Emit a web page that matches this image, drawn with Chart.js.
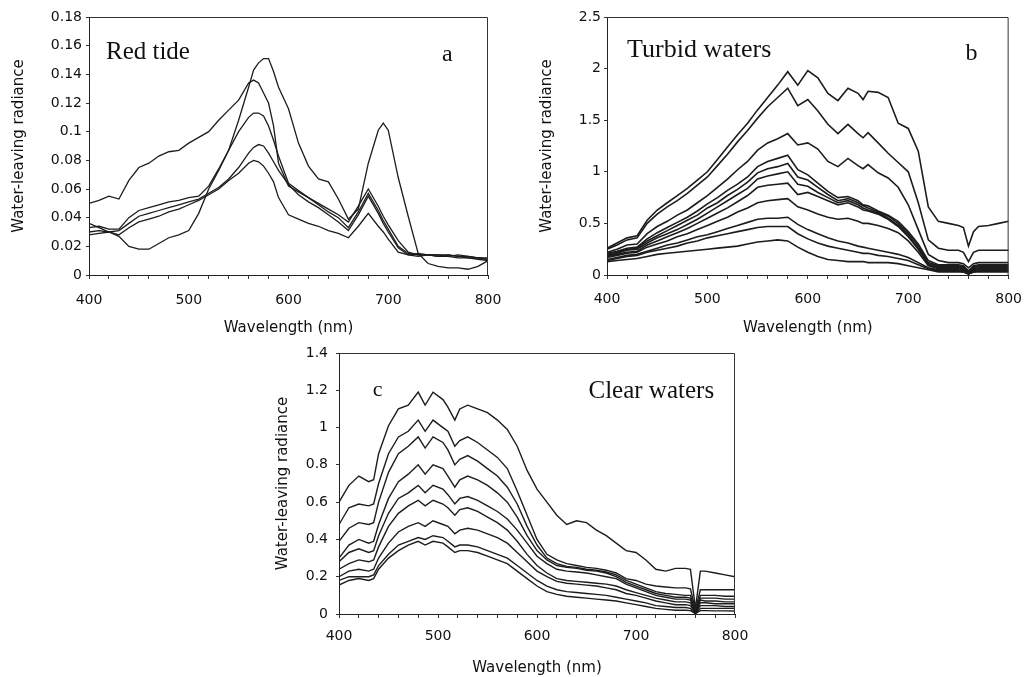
<!DOCTYPE html>
<html lang="en">
<head>
<meta charset="utf-8">
<title>Water-leaving radiance spectra</title>
<script src="https://cdn.jsdelivr.net/npm/chart.js@4.4.1/dist/chart.umd.min.js"></script>
<style>
  body { margin: 0; background: #fff; }
  #wrap { position: relative; width: 1034px; height: 677px; overflow: hidden; }
  #wrap canvas { position: absolute; }
</style>
</head>
<body>
<div id="wrap">
  <canvas id="chartA" width="520" height="345" style="left:0;top:0"></canvas>
  <canvas id="chartB" width="514" height="345" style="left:520px;top:0"></canvas>
  <canvas id="chartC" width="540" height="344" style="left:260px;top:333px"></canvas>
</div>
<script>
// ---- panel a : red tide ----
var wlA = [400,410,420,430,440,450,460,470,480,490,500,510,520,530,540,550,560,565,570,575,580,585,590,
           600,610,620,630,640,650,660,670,680,690,695,700,710,720,730,740,750,760,770,780,790,800];
var redA1 = [.050,.052,.055,.053,.066,.075,.078,.083,.086,.087,.092,.096,.100,.108,.115,.122,.134,.136,.134,.127,.120,.104,.078,
             .062,.058,.054,.050,.046,.042,.037,.048,.060,.048,.041,.035,.024,.016,.014,.014,.014,.014,.013,.013,.012,.011];
var redA2 = [.030,.031,.030,.027,.020,.018,.018,.022,.026,.028,.031,.043,.060,.073,.087,.108,.131,.143,.148,.151,.151,.142,.131,
             .116,.092,.076,.067,.065,.053,.039,.046,.078,.101,.106,.101,.068,.041,.015,.008,.006,.005,.005,.004,.006,.010];
var redA3 = [.033,.034,.032,.032,.040,.045,.047,.049,.051,.052,.054,.055,.062,.074,.087,.100,.110,.113,.113,.111,.104,.094,.083,
             .064,.059,.054,.049,.044,.040,.033,.044,.057,.045,.038,.032,.020,.015,.014,.014,.013,.014,.013,.012,.012,.011];
var redA4 = [.036,.033,.030,.031,.036,.041,.043,.045,.047,.049,.051,.053,.057,.061,.067,.075,.085,.089,.091,.090,.085,.079,.073,
             .063,.056,.051,.047,.042,.037,.031,.042,.055,.043,.036,.030,.019,.014,.015,.014,.014,.013,.014,.013,.012,.012];
var redA5 = [.028,.029,.030,.028,.033,.037,.039,.041,.044,.046,.049,.052,.056,.060,.066,.071,.078,.080,.079,.076,.071,.065,.054,
             .042,.039,.036,.034,.031,.029,.026,.034,.043,.034,.030,.025,.016,.014,.013,.014,.013,.013,.012,.012,.011,.010];

// ---- panel b : turbid waters ----
var wlB = [400,410,420,430,440,450,460,470,480,490,500,510,520,530,540,550,560,570,580,
           590,600,610,620,630,640,650,655,660,670,680,690,700,710,720,730,740,750,755,760,765,770,780,790,800];
var turbB1 = [.26,.31,.36,.38,.53,.63,.70,.77,.84,.92,1.00,1.12,1.24,1.36,1.47,1.60,1.72,1.84,1.97,
              1.84,1.98,1.91,1.76,1.69,1.81,1.76,1.70,1.78,1.77,1.72,1.47,1.42,1.20,.66,.52,.50,.48,.46,.28,.42,.47,.48,.50,.52];
var turbB2 = [.25,.29,.34,.36,.50,.59,.66,.72,.79,.87,.95,1.06,1.17,1.29,1.40,1.52,1.63,1.72,1.81,
              1.64,1.70,1.59,1.46,1.37,1.46,1.37,1.33,1.38,1.28,1.18,1.09,1.00,.70,.34,.26,.24,.24,.22,.13,.22,.24,.24,.24,.24];
var turbB3 = [.22,.25,.29,.30,.40,.47,.52,.58,.63,.70,.77,.85,.93,1.02,1.10,1.21,1.28,1.32,1.37,
              1.26,1.28,1.22,1.10,1.05,1.13,1.06,1.03,1.07,.99,.94,.85,.68,.44,.20,.14,.12,.12,.11,.07,.11,.12,.12,.12,.12];
var turbB4 = [.21,.23,.26,.27,.35,.41,.46,.51,.56,.62,.69,.75,.82,.88,.95,1.05,1.10,1.13,1.16,
              1.02,.97,.89,.81,.75,.76,.72,.68,.67,.62,.58,.52,.42,.30,.14,.10,.10,.10,.09,.04,.09,.10,.10,.10,.10];
var turbB5 = [.20,.22,.25,.26,.33,.38,.43,.48,.53,.58,.65,.70,.77,.83,.90,.99,1.03,1.05,1.08,
              .95,.92,.85,.78,.72,.74,.70,.67,.65,.61,.57,.50,.40,.28,.12,.09,.09,.09,.08,.03,.08,.09,.09,.09,.09];
var turbB6 = [.19,.21,.24,.25,.31,.36,.40,.44,.49,.54,.60,.66,.72,.78,.84,.93,.96,.98,1.00,
              .88,.86,.80,.75,.70,.72,.68,.65,.63,.60,.55,.48,.38,.26,.11,.08,.08,.08,.07,.03,.07,.08,.08,.08,.08];
var turbB7 = [.18,.20,.22,.23,.29,.33,.37,.41,.45,.50,.55,.60,.65,.71,.77,.85,.87,.88,.89,
              .78,.80,.76,.72,.68,.70,.66,.63,.62,.59,.54,.47,.37,.25,.10,.07,.07,.07,.06,.02,.06,.07,.07,.07,.07];
var turbB8 = [.17,.19,.21,.22,.27,.30,.33,.37,.40,.44,.48,.52,.56,.61,.65,.70,.72,.73,.74,
              .66,.63,.59,.56,.54,.55,.52,.50,.50,.48,.45,.41,.33,.22,.09,.06,.06,.06,.05,.02,.05,.06,.06,.06,.06];
var turbB9 = [.15,.17,.19,.20,.23,.26,.29,.31,.34,.37,.39,.42,.45,.48,.51,.54,.55,.55,.56,
              .49,.44,.40,.36,.33,.31,.28,.27,.26,.24,.22,.20,.17,.12,.07,.05,.05,.05,.04,.01,.04,.05,.05,.05,.05];
var turbB10 = [.14,.16,.18,.19,.22,.24,.26,.28,.31,.33,.36,.38,.40,.42,.44,.46,.47,.47,.47,
               .40,.35,.31,.28,.26,.24,.22,.21,.21,.19,.18,.16,.14,.10,.06,.04,.04,.04,.03,.01,.03,.04,.04,.04,.04];
var turbB11 = [.13,.14,.15,.16,.18,.20,.21,.22,.23,.24,.25,.26,.27,.28,.30,.32,.33,.34,.33,
               .27,.22,.18,.15,.14,.13,.13,.13,.12,.12,.12,.11,.09,.07,.05,.03,.03,.03,.03,.01,.03,.03,.03,.03,.03];

// ---- panel c : clear waters ----
var wlC = [400,410,420,430,435,440,450,460,470,480,487,495,505,510,517,522,
           530,540,550,560,570,580,590,600,610,620,630,640,650,660,670,680,690,700,710,720,730,740,750,
           755,760,765,770,780,790,800];
var clearC1 = [.60,.69,.74,.71,.72,.86,1.01,1.10,1.12,1.19,1.12,1.19,1.15,1.11,1.04,1.10,
               1.12,1.10,1.08,1.04,.99,.90,.77,.67,.60,.53,.48,.50,.49,.45,.42,.38,.34,.33,.29,.24,.23,.245,.245,
               .24,.03,.23,.23,.22,.21,.20];
var clearC2 = [.48,.57,.59,.58,.59,.70,.86,.95,.98,1.04,.98,1.04,1.00,.98,.90,.93,
               .95,.92,.88,.84,.78,.66,.53,.40,.32,.29,.27,.26,.25,.245,.235,.22,.19,.18,.16,.15,.145,.14,.14,
               .135,.02,.13,.13,.13,.13,.13];
var clearC3 = [.39,.46,.49,.48,.49,.60,.76,.86,.90,.95,.89,.95,.92,.88,.80,.83,
               .85,.82,.78,.74,.68,.59,.47,.37,.30,.27,.255,.25,.24,.235,.225,.21,.18,.16,.14,.12,.11,.105,.10,
               .10,.015,.10,.10,.10,.095,.095];
var clearC4 = [.30,.37,.40,.38,.39,.48,.62,.71,.75,.80,.75,.80,.78,.74,.68,.72,
               .74,.72,.69,.65,.60,.52,.42,.34,.29,.26,.25,.245,.235,.23,.22,.20,.17,.15,.13,.11,.10,.09,.09,
               .085,.01,.085,.085,.085,.08,.08];
var clearC5 = [.28,.33,.35,.33,.34,.42,.54,.62,.65,.69,.65,.69,.67,.64,.59,.62,
               .63,.61,.58,.55,.51,.45,.38,.31,.27,.24,.23,.225,.22,.21,.20,.19,.16,.14,.12,.10,.09,.08,.08,
               .075,.008,.075,.07,.07,.065,.065];
var clearC6 = [.24,.27,.29,.28,.29,.36,.47,.54,.58,.61,.58,.61,.59,.57,.53,.56,
               .57,.55,.52,.49,.45,.39,.32,.26,.22,.19,.18,.175,.17,.165,.16,.15,.13,.115,.10,.085,.075,.065,.065,
               .06,.006,.06,.06,.055,.055,.055];
var clearC7 = [.20,.23,.24,.23,.24,.30,.38,.44,.47,.49,.47,.50,.48,.47,.43,.45,
               .46,.45,.43,.41,.38,.33,.28,.23,.20,.175,.165,.16,.155,.15,.14,.13,.11,.10,.085,.07,.06,.05,.05,
               .045,.004,.045,.045,.045,.04,.04];
var clearC8 = [.18,.20,.20,.20,.21,.26,.32,.37,.39,.41,.40,.42,.41,.39,.36,.37,
               .37,.36,.34,.32,.30,.26,.22,.18,.15,.13,.12,.115,.11,.105,.10,.09,.08,.07,.06,.045,.04,.035,.035,
               .03,.003,.03,.03,.03,.03,.03];
var clearC9 = [.155,.18,.19,.18,.19,.24,.30,.34,.37,.39,.37,.39,.38,.36,.33,.34,
               .34,.33,.31,.29,.27,.23,.19,.15,.12,.105,.095,.09,.085,.08,.075,.07,.06,.05,.04,.03,.025,.02,.02,
               .018,.002,.018,.018,.017,.017,.016];

var tickFont = { family: 'DejaVu Sans', size: 14 };
var titleFont = { family: 'DejaVu Sans', size: 15 };
var ink = '#1c1c1c';

// top + right edge of the plot box
var framePlugin = {
  id: 'frame',
  afterDraw: function (chart) {
    var a = chart.chartArea, ctx = chart.ctx;
    ctx.save();
    ctx.strokeStyle = '#333';
    ctx.lineWidth = 1;
    ctx.beginPath();
    ctx.moveTo(a.left, a.top + 0.5);
    ctx.lineTo(a.right - 0.5, a.top + 0.5);
    ctx.lineTo(a.right - 0.5, a.bottom);
    ctx.stroke();
    ctx.restore();
  }
};

// panel captions, placed in data coordinates
var textPlugin = {
  id: 'panelText',
  afterDraw: function (chart, args, opts) {
    var ctx = chart.ctx, xs = chart.scales.x, ys = chart.scales.y;
    ctx.save();
    ctx.fillStyle = '#111';
    ctx.textBaseline = 'alphabetic';
    (opts.items || []).forEach(function (it) {
      ctx.font = it.size + 'px "Liberation Serif", "Times New Roman", serif';
      ctx.textAlign = 'left';
      ctx.fillText(it.text, xs.getPixelForValue(it.x), ys.getPixelForValue(it.y));
    });
    ctx.restore();
  }
};

function fmt(v) { return String(+v.toFixed(2)); }

function makePanel(id, p) {
  var canvas = document.getElementById(id);
  var datasets = p.series.map(function (s) {
    return {
      data: p.wl.map(function (w, i) { return { x: w, y: s[i] }; }),
      borderColor: ink,
      borderWidth: p.lineWidth,
      pointRadius: 0,
      tension: 0,
      fill: false
    };
  });
  return new Chart(canvas, {
    type: 'line',
    data: { datasets: datasets },
    options: {
      responsive: false,
      animation: false,
      events: [],
      layout: { padding: { top: p.box.top, right: canvas.width - p.box.right, left: 0, bottom: 0 } },
      plugins: {
        legend: { display: false },
        tooltip: { enabled: false },
        panelText: { items: p.notes }
      },
      scales: {
        x: {
          type: 'linear', min: 400, max: 800,
          afterFit: function (s) { s.height = canvas.height - p.box.bottom; },
          grid: { display: true, drawOnChartArea: false, drawTicks: true, tickLength: 4, color: '#333' },
          border: { display: true, color: '#222', width: 1 },
          ticks: {
            stepSize: 20, autoSkip: false, maxRotation: 0, padding: p.xTickPad,
            color: '#111', font: tickFont,
            callback: function (v) { return v % 100 === 0 ? String(v) : ''; }
          },
          title: { display: true, text: 'Wavelength (nm)', color: '#111', font: titleFont,
                   padding: { top: 0, bottom: p.xTitlePad } }
        },
        y: {
          type: 'linear', min: 0, max: p.yMax,
          afterFit: function (s) { s.width = p.box.left; },
          grid: { display: true, drawOnChartArea: false, drawTicks: true, tickLength: 3, color: '#333' },
          border: { display: true, color: '#222', width: 1 },
          ticks: { stepSize: p.yStep, padding: p.yTickPad, color: '#111', font: tickFont, callback: fmt },
          title: { display: true, text: 'Water-leaving radiance', color: '#111', font: titleFont,
                   padding: { top: p.yTitlePad, bottom: 0 } }
        }
      }
    },
    plugins: [framePlugin, textPlugin]
  });
}

makePanel('chartA', {
  wl: wlA, series: [redA1, redA2, redA3, redA4, redA5],
  box: { left: 89, top: 17, right: 488, bottom: 275 },
  yMax: 0.18, yStep: 0.02, lineWidth: 1.3,
  xTickPad: 13, xTitlePad: 8, yTickPad: 4, yTitlePad: 10,
  notes: [ { text: 'Red tide', x: 417, y: 0.151, size: 25 },
           { text: 'a', x: 754, y: 0.149, size: 24 } ]
});

makePanel('chartB', {
  wl: wlB, series: [turbB1, turbB2, turbB3, turbB4, turbB5, turbB6, turbB7, turbB8, turbB9, turbB10, turbB11],
  box: { left: 87, top: 17, right: 496, bottom: 275 },
  yMax: 2.5, yStep: 0.5, lineWidth: 1.6,
  xTickPad: 12, xTitlePad: 8, yTickPad: 3, yTitlePad: 18,
  notes: [ { text: 'Turbid waters', x: 420, y: 2.11, size: 26 },
           { text: 'b', x: 757, y: 2.08, size: 24 } ]
});

makePanel('chartC', {
  wl: wlC, series: [clearC1, clearC2, clearC3, clearC4, clearC5, clearC6, clearC7, clearC8, clearC9],
  box: { left: 79, top: 20, right: 475, bottom: 281 },
  yMax: 1.4, yStep: 0.2, lineWidth: 1.4,
  xTickPad: 10, xTitlePad: 0, yTickPad: 8, yTitlePad: 14,
  notes: [ { text: 'Clear waters', x: 652, y: 1.16, size: 25 },
           { text: 'c', x: 434, y: 1.17, size: 22 } ]
});
</script>
</body>
</html>
